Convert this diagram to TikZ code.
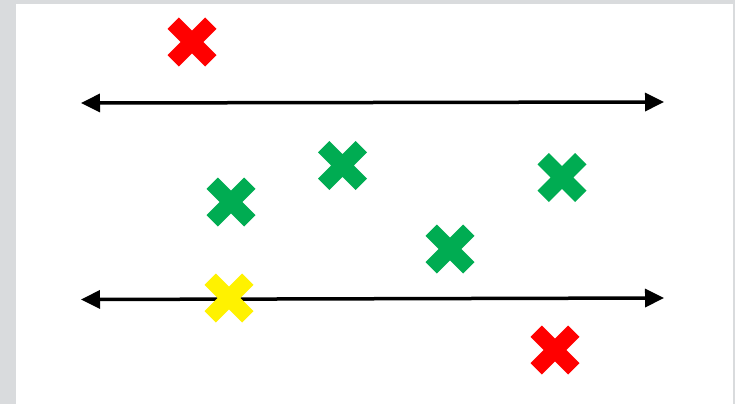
\documentclass[tikz,border=0pt]{standalone}
\usetikzlibrary{arrows.meta}
\definecolor{bggray}{RGB}{217,219,221}
\definecolor{xred}{RGB}{255,0,0}
\definecolor{xgreen}{RGB}{0,172,82}
\definecolor{xyellow}{RGB}{255,242,0}
\tikzset{
  xmark/.style={minimum size=50pt, inner sep=0pt, outer sep=0pt,
    path picture={
      \fill[#1, shift={(path picture bounding box.center)}]
        (0pt,11.3pt) -- (13.2pt,24.5pt) -- (24.5pt,13.2pt) -- (11.3pt,0pt)
        -- (24.5pt,-13.2pt) -- (13.2pt,-24.5pt) -- (0pt,-11.3pt)
        -- (-13.2pt,-24.5pt) -- (-24.5pt,-13.2pt) -- (-11.3pt,0pt)
        -- (-24.5pt,13.2pt) -- (-13.2pt,24.5pt) -- cycle;
    }},
  axisline/.style={line width=3.5pt, {Triangle[length=19pt,width=18pt]}-{Triangle[length=19pt,width=18pt]}}
}
\begin{document}
\begin{tikzpicture}[x=1pt,y=-1pt]
\useasboundingbox (0,0) rectangle (735,404);
\fill[bggray] (0,0) rectangle (735,404);
\fill[white] (16,4) rectangle (733,404);
% lines
\coordinate (l1a) at (81,103);
\coordinate (l1b) at (664,102);
\coordinate (l2a) at (81,299.5);
\coordinate (l2b) at (664,298);
\draw[axisline] (l1a) -- (l1b);
\draw[axisline] (l2a) -- (l2b);
% marks
\node[xmark=xred] (r1) at (192,42) {};
\node[xmark=xgreen] (g1) at (231,202) {};
\node[xmark=xgreen] (g2) at (342.5,165.5) {};
\node[xmark=xgreen] (g3) at (562,177.5) {};
\node[xmark=xgreen] (g4) at (450,249) {};
\node[xmark=xyellow] (y1) at (229,298) {};
\node[xmark=xred] (r2) at (555,350) {};
\end{tikzpicture}
\end{document}
